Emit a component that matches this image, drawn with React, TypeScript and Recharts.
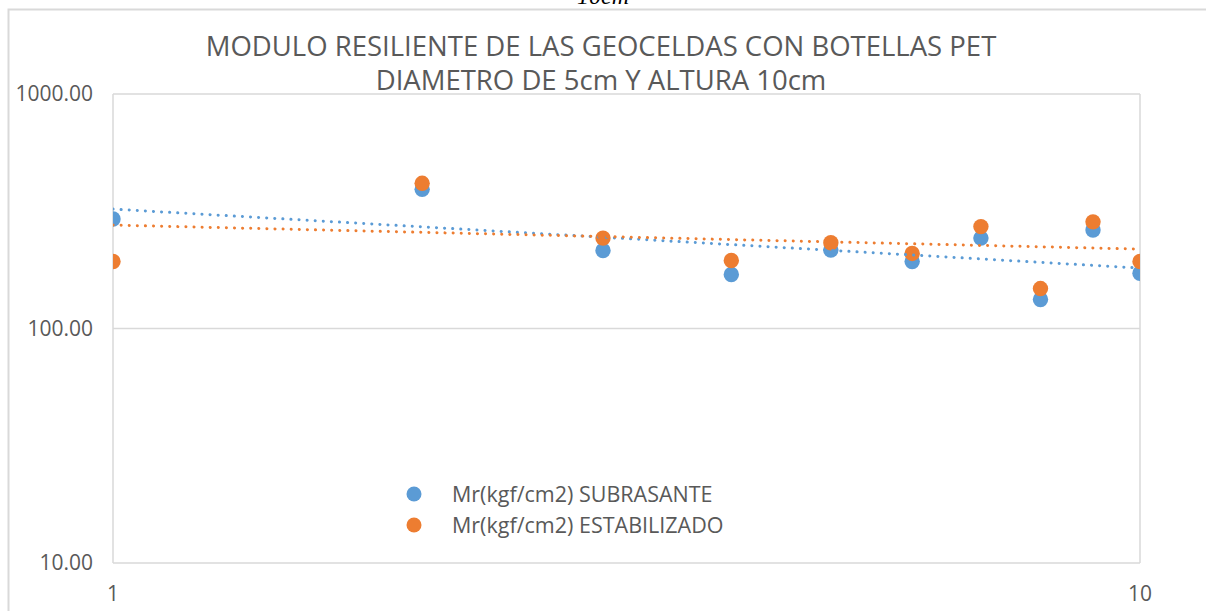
import { ScatterChart, Scatter, XAxis, YAxis, CartesianGrid } from "recharts";

const ensayos = [1, 2, 3, 4, 5, 6, 7, 8, 9, 10];
const mrSubrasante = [293, 392, 215, 170, 216, 193, 243, 133, 263, 172];
const mrEstabilizado = [193, 416, 243, 195, 232, 209, 272, 148, 285, 193];

// power trendlines, end values
const trendX = [1, 10];
const trendSubrasante = [323, 181];
const trendEstabilizado = [276, 218];

const xTicks = [1, 10];
const yTicks = [10, 100, 1000];

const BLUE = "#5B9BD5";
const ORANGE = "#ED7D31";
const GREY = "#595959";
const FONT = "'Open Sans', 'Noto Sans', sans-serif";

const seriesNames = ["Mr(kgf/cm2) SUBRASANTE", "Mr(kgf/cm2) ESTABILIZADO"];

const toPoints = (ys: number[], xs: number[]) => ys.map((y, i) => ({ x: xs[i], y }));

const dot = (color: string) => (p: any) => <circle cx={p.cx} cy={p.cy} r={7.7} fill={color} />;
const noDot = () => <g />;

const LegendBox = () => (
  <div style={{ position: "absolute", left: 406, top: 478, fontFamily: FONT, fontSize: 21.5, color: GREY }}>
    {seriesNames.map((name, i) => (
      <div key={name} style={{ display: "flex", alignItems: "center", height: 31 }}>
        <svg width={16} height={16}>
          <circle cx={8} cy={8} r={7.5} fill={i === 0 ? BLUE : ORANGE} />
        </svg>
        <span style={{ marginLeft: 30, whiteSpace: "nowrap" }}>{name}</span>
      </div>
    ))}
  </div>
);

export default function App() {
  return (
    <div style={{ position: "absolute", left: 0, top: 0, width: 1206, height: 611, overflow: "hidden", background: "#fff" }}>
      <svg width={1206} height={611} style={{ position: "absolute", left: 0, top: 0 }}>
        <rect x={8.5} y={9.5} width={1300} height={700} fill="none" stroke="#d9d9d9" strokeWidth={2} />
        <text x={577} y={4} fontFamily="'Liberation Serif', serif" fontStyle="italic" fontSize={24} fill="#000">
          10cm
        </text>
        <text x={601} y={56} textAnchor="middle" fontFamily={FONT} fontSize={27.5} fill={GREY}>
          MODULO RESILIENTE DE LAS GEOCELDAS CON BOTELLAS PET
        </text>
        <text x={601} y={90} textAnchor="middle" fontFamily={FONT} fontSize={27.5} fill={GREY}>
          DIAMETRO DE 5cm Y ALTURA 10cm
        </text>
      </svg>
      <div style={{ position: "absolute", left: 0, top: 0 }}>
        <ScatterChart width={1206} height={611} margin={{ top: 94, right: 66, bottom: 8, left: 8 }}>
          <CartesianGrid stroke="#d9d9d9" strokeWidth={1.5} />
          <XAxis
            type="number"
            dataKey="x"
            scale="log"
            domain={[1, 10]}
            ticks={xTicks}
            allowDataOverflow
            height={40}
            axisLine={false}
            tickLine={false}
            tickSize={0}
            tickMargin={23}
            tick={{ fill: GREY, fontSize: 21, fontFamily: FONT }}
          />
          <YAxis
            type="number"
            dataKey="y"
            scale="log"
            domain={[10, 1000]}
            ticks={yTicks}
            allowDataOverflow
            width={105}
            axisLine={false}
            tickLine={false}
            tickSize={0}
            tickMargin={20}
            tickFormatter={(v: number) => v.toFixed(2)}
            tick={{ fill: GREY, fontSize: 21, fontFamily: FONT }}
          />
          <Scatter name={seriesNames[0]} data={toPoints(mrSubrasante, ensayos)} fill={BLUE} shape={dot(BLUE)} isAnimationActive={false} />
          <Scatter name={seriesNames[1]} data={toPoints(mrEstabilizado, ensayos)} fill={ORANGE} shape={dot(ORANGE)} isAnimationActive={false} />
          <Scatter
            data={toPoints(trendSubrasante, trendX)}
            shape={noDot}
            line={{ stroke: BLUE, strokeWidth: 3, strokeDasharray: "0.1 8", strokeLinecap: "round" }}
            lineType="joint"
            legendType="none"
            isAnimationActive={false}
          />
          <Scatter
            data={toPoints(trendEstabilizado, trendX)}
            shape={noDot}
            line={{ stroke: ORANGE, strokeWidth: 3, strokeDasharray: "0.1 8", strokeLinecap: "round" }}
            lineType="joint"
            legendType="none"
            isAnimationActive={false}
          />
        </ScatterChart>
      </div>
      <LegendBox />
    </div>
  );
}
